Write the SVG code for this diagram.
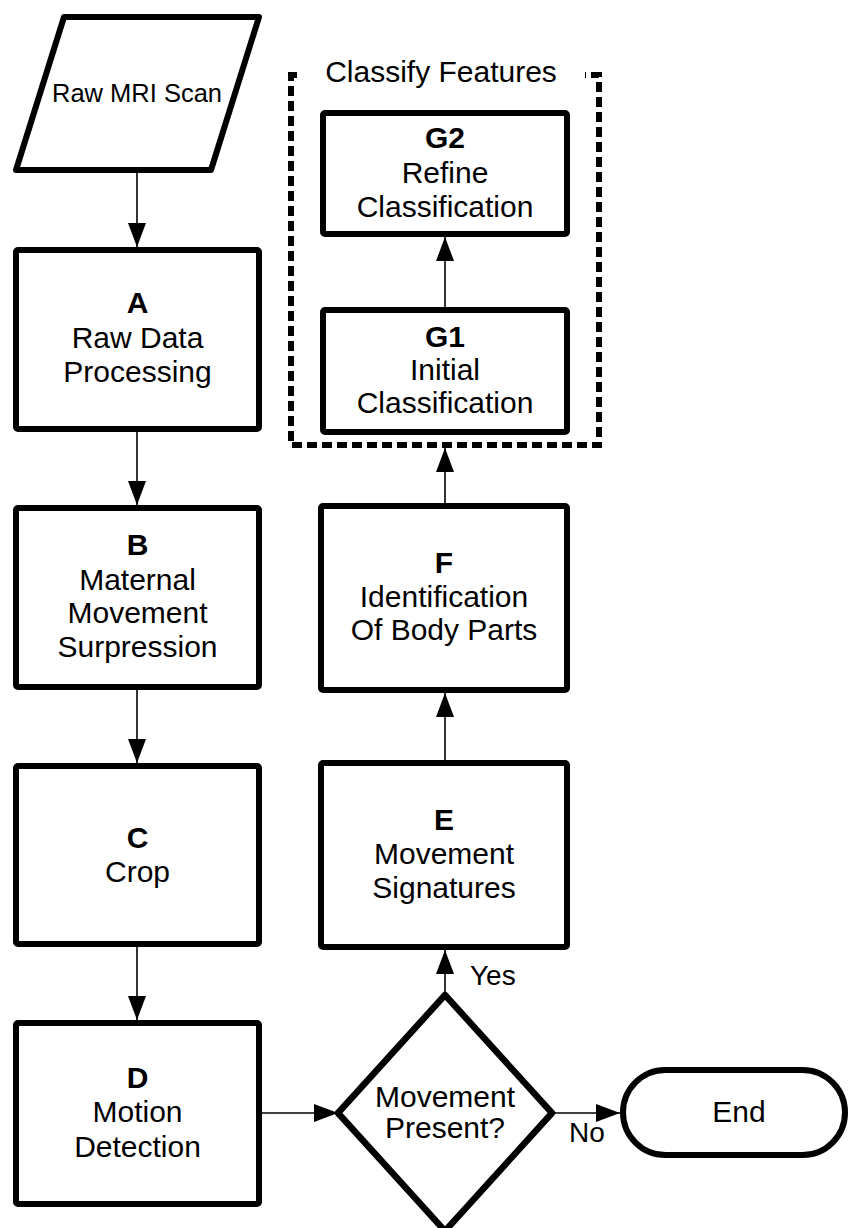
<svg xmlns="http://www.w3.org/2000/svg" width="850" height="1228" viewBox="0 0 850 1228">
<style>
.box{fill:#fff;stroke:#000;stroke-width:6;stroke-linejoin:round}
.t{font-family:"Liberation Sans",Arial,sans-serif;font-size:30px;fill:#000;text-anchor:middle}
.b{font-weight:bold}
.edge{fill:none;stroke:#000;stroke-width:1.6}
.lbl{font-family:"Liberation Sans",Arial,sans-serif;font-size:28px;fill:#000}
</style>
<defs>
<marker id="ah" markerUnits="userSpaceOnUse" markerWidth="24" markerHeight="18" refX="24" refY="9" orient="auto">
<path d="M0,0 L24,9 L0,18 z" fill="#000"/>
</marker>
</defs>
<rect width="850" height="1228" fill="#fff"/>

<g id="connectors">
<line class="edge" x1="137" y1="173" x2="137" y2="247" marker-end="url(#ah)"/>
<line class="edge" x1="137" y1="432" x2="137" y2="505" marker-end="url(#ah)"/>
<line class="edge" x1="137" y1="690" x2="137" y2="763" marker-end="url(#ah)"/>
<line class="edge" x1="137" y1="947" x2="137" y2="1020" marker-end="url(#ah)"/>
<line class="edge" x1="262" y1="1113" x2="338" y2="1113" marker-end="url(#ah)"/>
<line class="edge" x1="552" y1="1113" x2="620" y2="1113" marker-end="url(#ah)"/>
<line class="edge" x1="445" y1="995" x2="445" y2="950" marker-end="url(#ah)"/>
<line class="edge" x1="445" y1="760" x2="445" y2="693" marker-end="url(#ah)"/>
<line class="edge" x1="445" y1="503" x2="445" y2="448" marker-end="url(#ah)"/>
<line class="edge" x1="445" y1="307" x2="445" y2="237" marker-end="url(#ah)"/>
<text class="lbl" x="470" y="985">Yes</text>
<text class="lbl" x="569" y="1142">No</text>
</g>

<g id="group-classify">
<rect x="291" y="75" width="308" height="370" fill="none" stroke="#000" stroke-width="6" stroke-dasharray="10 5"/>
<rect x="297" y="60" width="288" height="24" fill="#fff"/>
<text class="t" x="441" y="82">Classify Features</text>
</g>

<g id="raw-mri-scan">
<polygon class="box" points="64,17 259,17 211,170 16,170"/>
<text class="t" x="137" y="102" style="font-size:25.5px">Raw MRI Scan</text>
</g>

<g id="node-a">
<rect class="box" x="16" y="250" width="243" height="179" rx="2"/>
<text class="t b" x="137.5" y="313">A</text>
<text class="t" x="137.5" y="348">Raw Data</text>
<text class="t" x="137.5" y="382">Processing</text>
</g>

<g id="node-b">
<rect class="box" x="16" y="508" width="243" height="179" rx="2"/>
<text class="t b" x="137.5" y="555">B</text>
<text class="t" x="137.5" y="590">Maternal</text>
<text class="t" x="137.5" y="623">Movement</text>
<text class="t" x="137.5" y="657">Surpression</text>
</g>

<g id="node-c">
<rect class="box" x="16" y="766" width="243" height="178" rx="2"/>
<text class="t b" x="137.5" y="848">C</text>
<text class="t" x="137.5" y="882">Crop</text>
</g>

<g id="node-d">
<rect class="box" x="16" y="1023" width="243" height="181" rx="2"/>
<text class="t b" x="137.5" y="1088">D</text>
<text class="t" x="137.5" y="1122">Motion</text>
<text class="t" x="137.5" y="1157">Detection</text>
</g>

<g id="decision">
<polygon class="box" points="445,995 552,1113 445,1231 338,1113" style="stroke-width:6.5"/>
<text class="t" x="445" y="1107">Movement</text>
<text class="t" x="445" y="1138">Present?</text>
</g>

<g id="end">
<rect class="box" x="623" y="1070" width="222" height="85" rx="42.5"/>
<text class="t" x="739" y="1122">End</text>
</g>

<g id="node-e">
<rect class="box" x="321" y="763" width="246" height="184" rx="2"/>
<text class="t b" x="444" y="830">E</text>
<text class="t" x="444" y="864">Movement</text>
<text class="t" x="444" y="898">Signatures</text>
</g>

<g id="node-f">
<rect class="box" x="321" y="506" width="246" height="184" rx="2"/>
<text class="t b" x="444" y="573">F</text>
<text class="t" x="444" y="607">Identification</text>
<text class="t" x="444" y="640">Of Body Parts</text>
</g>

<g id="node-g1">
<rect class="box" x="323" y="310" width="244" height="122" rx="2"/>
<text class="t b" x="445" y="347">G1</text>
<text class="t" x="445" y="380">Initial</text>
<text class="t" x="445" y="413">Classification</text>
</g>

<g id="node-g2">
<rect class="box" x="323" y="113" width="244" height="121" rx="2"/>
<text class="t b" x="445" y="148">G2</text>
<text class="t" x="445" y="183">Refine</text>
<text class="t" x="445" y="217">Classification</text>
</g>
</svg>
